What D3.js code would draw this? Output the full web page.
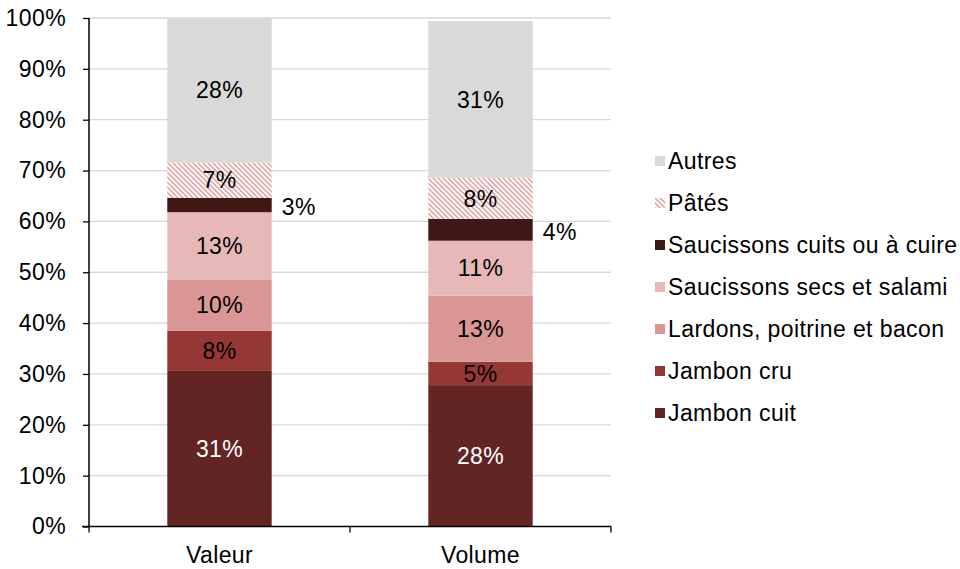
<!DOCTYPE html>
<html>
<head>
  <meta charset="utf-8">
  <title>Charcuterie : répartition valeur / volume</title>
  <script src="https://d3js.org/d3.v7.min.js"></script>
  <style>
    body { margin: 0; background: #fff; }
    text { font-family: "Liberation Sans", Arial, Helvetica, sans-serif; font-size: 23px; letter-spacing: 0.4px; fill: #000; }
  </style>
</head>
<body>
  <svg id="chart" width="960" height="569"></svg>

  <script>
    // Données (en %)
    const categories = ["Valeur", "Volume"];
    const series = [
      "Jambon cuit",
      "Jambon cru",
      "Lardons, poitrine et bacon",
      "Saucissons secs et salami",
      "Saucissons cuits ou à cuire",
      "Pâtés",
      "Autres"
    ];
    const valeur = [30.6, 7.9, 10.1, 13.2, 2.8, 7.0, 28.4];
    const volume = [27.8, 4.6, 13.0, 10.8, 4.3, 8.1, 30.8];
    const yTicks = [0, 10, 20, 30, 40, 50, 60, 70, 80, 90, 100];

    const couleurs = ["#632523", "#953735", "#D99694", "#E6B9B8", "#3F1715", "url(#hachures)", "#D9D9D9"];

    const width = 960, height = 569;
    const margin = { left: 89, right: 349, top: 18, bottom: 42.5 };

    const svg = d3.select("#chart");

    // motif hachuré pour les pâtés
    const defs = svg.append("defs");
    const pat = defs.append("pattern")
      .attr("id", "hachures")
      .attr("patternUnits", "userSpaceOnUse")
      .attr("width", 5)
      .attr("height", 5);
    pat.append("rect").attr("width", 5).attr("height", 5).attr("fill", "#fff");
    pat.append("path")
      .attr("d", "M-1,-1L6,6M-1,4L1,6M4,-1L6,1")
      .attr("stroke", "#E3A9A8")
      .attr("stroke-width", 1.6);

    const x = d3.scaleBand()
      .domain(categories)
      .range([margin.left, width - margin.right])
      .paddingInner(0.6)
      .paddingOuter(0.3);

    const y = d3.scaleLinear()
      .domain([0, 100])
      .range([height - margin.bottom, margin.top]);

    // lignes de grille
    svg.append("g")
      .selectAll("line")
      .data(yTicks.slice(1))
      .join("line")
      .attr("x1", margin.left)
      .attr("x2", width - margin.right)
      .attr("y1", d => y(d))
      .attr("y2", d => y(d))
      .attr("stroke", "#D9D9D9")
      .attr("stroke-width", 1.3);

    // empilement
    const table = categories.map((c, i) => {
      const row = { cat: c };
      const vals = i === 0 ? valeur : volume;
      series.forEach((s, j) => row[s] = vals[j]);
      return row;
    });
    const stack = d3.stack().keys(series)(table);

    const groupes = svg.append("g")
      .selectAll("g")
      .data(stack)
      .join("g")
      .attr("fill", (d, i) => couleurs[i]);

    groupes.selectAll("rect")
      .data(d => d)
      .join("rect")
      .attr("x", d => x(d.data.cat))
      .attr("width", x.bandwidth())
      .attr("y", d => y(d[1]))
      .attr("height", d => y(d[0]) - y(d[1]));

    // étiquettes
    stack.forEach((s, i) => {
      svg.append("g")
        .selectAll("text")
        .data(s)
        .join("text")
        .attr("x", d => i === 4 ? x(d.data.cat) + x.bandwidth() + 10 : x(d.data.cat) + x.bandwidth() / 2)
        .attr("y", d => (y(d[0]) + y(d[1])) / 2 + (i === 4 ? 2 : 0))
        .attr("dy", "0.36em")
        .attr("text-anchor", i === 4 ? "start" : "middle")
        .style("fill", i === 0 ? "#fff" : "#000")
        .text(d => Math.round(d[1] - d[0]) + "%");
    });

    // axe Y
    const axeY = svg.append("g")
      .attr("transform", `translate(${margin.left},0)`)
      .call(d3.axisLeft(y).tickValues(yTicks).tickSize(6).tickPadding(17).tickFormat(d => d + "%"));
    axeY.select(".domain").attr("stroke", "#000").attr("stroke-width", 1.5).attr("d", `M0,${y(100)}V${y(0)}`);
    axeY.selectAll(".tick line").attr("stroke", "#000").attr("stroke-width", 1.3);
    axeY.selectAll("text").style("font-size", "23px").style("font-family", null);

    // axe X
    const axeX = svg.append("g")
      .attr("transform", `translate(0,${y(0)})`);
    axeX.append("line")
      .attr("x1", margin.left - 7)
      .attr("x2", width - margin.right)
      .attr("stroke", "#000")
      .attr("stroke-width", 1.5);
    axeX.selectAll(".sep")
      .data([0, 1, 2])
      .join("line")
      .attr("class", "sep")
      .attr("x1", d => margin.left + d * x.step())
      .attr("x2", d => margin.left + d * x.step())
      .attr("y1", 0)
      .attr("y2", 6)
      .attr("stroke", "#000")
      .attr("stroke-width", 1.3);
    axeX.selectAll(".cat")
      .data(categories)
      .join("text")
      .attr("class", "cat")
      .attr("x", d => x(d) + x.bandwidth() / 2)
      .attr("y", 28)
      .attr("dy", "0.36em")
      .attr("text-anchor", "middle")
      .text(d => d);

    // légende
    const legende = svg.append("g")
      .attr("transform", "translate(655,161)");
    const items = legende.selectAll("g")
      .data(series.map((s, i) => ({ s, i })).reverse())
      .join("g")
      .attr("transform", (d, k) => `translate(0,${k * 42})`);
    items.append("rect")
      .attr("x", 0)
      .attr("y", -5)
      .attr("width", 10)
      .attr("height", 10)
      .attr("fill", d => couleurs[d.i]);
    items.append("text")
      .attr("x", 13)
      .attr("y", 0)
      .attr("dy", "0.36em")
      .text(d => d.s);
  </script>
</body>
</html>
